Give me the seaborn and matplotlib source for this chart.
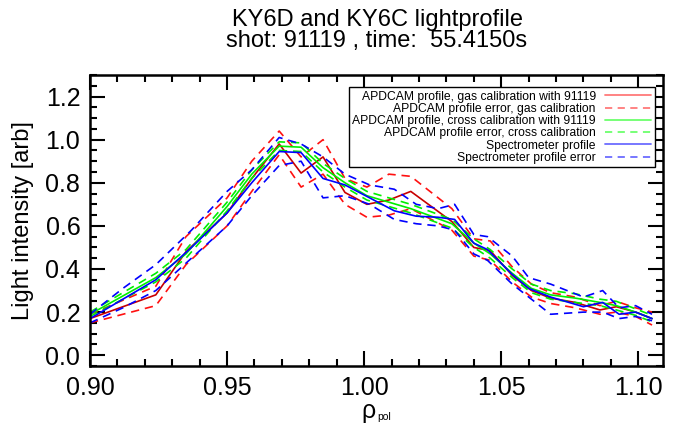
import numpy as np
import pandas as pd
import matplotlib
matplotlib.use("Agg")
import matplotlib.pyplot as plt
import seaborn as sns
from matplotlib.lines import Line2D
from matplotlib.ticker import MultipleLocator, FormatStrFormatter

# ---------------- data ----------------
apd_x = [0.900, 0.924, 0.935, 0.950, 0.959, 0.969, 0.977, 0.985, 0.993, 1.001, 1.009, 1.017,
         1.032, 1.040, 1.046, 1.054, 1.061, 1.068, 1.077, 1.086, 1.092, 1.099, 1.105]
gas_y = [0.17, 0.28, 0.48, 0.66, 0.82, 0.98, 0.845, 0.92, 0.755, 0.70, 0.72, 0.76,
         0.62, 0.50, 0.485, 0.37, 0.30, 0.265, 0.245, 0.21, 0.225, 0.20, 0.17]
gas_hi = [0.19, 0.32, 0.55, 0.73, 0.90, 1.04, 0.92, 1.00, 0.82, 0.78, 0.84, 0.83,
          0.68, 0.54, 0.53, 0.41, 0.33, 0.29, 0.27, 0.23, 0.25, 0.22, 0.20]
gas_lo = [0.15, 0.23, 0.42, 0.60, 0.76, 0.93, 0.78, 0.84, 0.70, 0.64, 0.65, 0.68,
          0.58, 0.46, 0.44, 0.34, 0.27, 0.24, 0.22, 0.19, 0.20, 0.18, 0.14]
cross_y = [0.19, 0.36, 0.47, 0.69, 0.84, 0.97, 0.965, 0.87, 0.80, 0.74, 0.71, 0.68,
           0.61, 0.52, 0.47, 0.38, 0.31, 0.28, 0.265, 0.245, 0.23, 0.20, 0.17]
cross_hi = [0.20, 0.38, 0.49, 0.71, 0.86, 0.99, 0.985, 0.89, 0.82, 0.76, 0.73, 0.70,
            0.63, 0.54, 0.49, 0.40, 0.33, 0.30, 0.285, 0.26, 0.25, 0.215, 0.185]
cross_lo = [0.18, 0.34, 0.45, 0.67, 0.82, 0.95, 0.945, 0.85, 0.78, 0.72, 0.69, 0.66,
            0.59, 0.50, 0.45, 0.36, 0.29, 0.26, 0.245, 0.23, 0.21, 0.185, 0.155]

spec_x = [0.900, 0.912, 0.924, 0.937, 0.950, 0.959, 0.969, 0.977, 0.985, 0.993, 1.002, 1.011,
          1.019, 1.027, 1.033, 1.040, 1.045, 1.054, 1.060, 1.068, 1.080, 1.087, 1.093, 1.099, 1.105]
spec_y = [0.17, 0.26, 0.35, 0.50, 0.66, 0.80, 0.945, 0.94, 0.82, 0.79, 0.73, 0.67,
          0.645, 0.64, 0.63, 0.52, 0.49, 0.375, 0.31, 0.27, 0.225, 0.245, 0.19, 0.20, 0.17]
spec_hi = [0.19, 0.31, 0.42, 0.58, 0.76, 0.86, 1.01, 0.98, 0.92, 0.84, 0.79, 0.77,
           0.70, 0.68, 0.70, 0.56, 0.55, 0.46, 0.36, 0.33, 0.27, 0.30, 0.22, 0.23, 0.19]
spec_lo = [0.15, 0.22, 0.30, 0.45, 0.60, 0.74, 0.88, 0.90, 0.73, 0.74, 0.70, 0.63,
           0.61, 0.60, 0.58, 0.47, 0.44, 0.33, 0.27, 0.19, 0.20, 0.20, 0.17, 0.18, 0.16]

legend_labels = ["APDCAM profile, gas calibration with 91119",
                 "APDCAM profile error, gas calibration",
                 "APDCAM profile, cross calibration with 91119",
                 "APDCAM profile error, cross calibration",
                 "Spectrometer profile",
                 "Spectrometer profile error"]
title_text = "KY6D and KY6C lightprofile\nshot: 91119 , time:  55.4150s"

# ---------------- styling ----------------
sns.set_theme(style="ticks")
plt.rcParams["font.family"] = ["Liberation Sans", "DejaVu Sans"]
plt.rcParams["text.color"] = "black"
plt.rcParams["axes.labelcolor"] = "black"

fig = plt.figure(figsize=(6.76, 4.28), dpi=100)
fig.patch.set_facecolor("white")
L, R, T, B = 90, 663, 75, 366
ax = fig.add_axes([L / 676, 1 - B / 428, (R - L) / 676, (B - T) / 428])
ax.set_facecolor("white")

DARKRED = "#c80000"
RED = "#ff1010"
GREEN = "#00ee00"
BLUE = "#0000ff"
dash = (0, (5, 3.5))
lw = 1.2

def draw(x, y, color, ls):
    df = pd.DataFrame({"x": x, "y": y})
    sns.lineplot(data=df, x="x", y="y", ax=ax, color=color, linestyle=ls, lw=lw,
                 estimator=None, sort=False, legend=False)

draw(apd_x, gas_y, DARKRED, "-")
draw(apd_x, gas_hi, RED, dash)
draw(apd_x, gas_lo, RED, dash)
draw(apd_x, cross_y, GREEN, "-")
draw(apd_x, cross_hi, GREEN, dash)
draw(apd_x, cross_lo, GREEN, dash)
draw(spec_x, spec_y, BLUE, "-")
draw(spec_x, spec_hi, BLUE, dash)
draw(spec_x, spec_lo, BLUE, dash)

ax.set_xlim(0.9, 1.109)
ax.set_ylim(-0.05, 1.3)
ax.xaxis.set_major_locator(MultipleLocator(0.05))
ax.xaxis.set_minor_locator(MultipleLocator(0.01))
ax.yaxis.set_major_locator(MultipleLocator(0.2))
ax.yaxis.set_minor_locator(MultipleLocator(0.05))
ax.xaxis.set_major_formatter(FormatStrFormatter("%.2f"))
ax.yaxis.set_major_formatter(FormatStrFormatter("%.1f"))
ax.tick_params(which="both", direction="in", top=True, right=True, colors="black",
               labelsize=18, width=1.5)
ax.tick_params(which="major", length=11, pad=7)
ax.tick_params(which="minor", length=5)
for s in ax.spines.values():
    s.set_linewidth(1.8)
    s.set_color("black")
    s.set_visible(True)

ax.set_xlabel("")
ax.set_ylabel("Light intensity [arb]", fontsize=17, labelpad=8)

# x label rho_pol
fig.text(376 / 676, 1 - 411 / 428, "ρ", fontsize=18, ha="right", va="center")
fig.text(377 / 676, 1 - 417 / 428, "pol", fontsize=7.5, ha="left", va="center")

fig.text(377 / 676, 1 - 9 / 428, title_text, ha="center", va="top", fontsize=17,
         linespacing=0.95)

handles = [Line2D([], [], color="#ff7a7a", lw=1.3, ls="-"),
           Line2D([], [], color="#ff7a7a", lw=1.3, ls=(0, (4, 3))),
           Line2D([], [], color="#6cff6c", lw=1.3, ls="-"),
           Line2D([], [], color="#6cff6c", lw=1.3, ls=(0, (4, 3))),
           Line2D([], [], color="#6c6cff", lw=1.3, ls="-"),
           Line2D([], [], color="#6c6cff", lw=1.3, ls=(0, (4, 3)))]
leg = ax.legend(handles, legend_labels, loc="upper right",
                bbox_to_anchor=((655 - L) / (R - L), 1 - (87 - T) / (B - T)),
                markerfirst=False, alignment="right", frameon=True, fancybox=False,
                framealpha=1, edgecolor="black", borderaxespad=0, borderpad=0.3,
                labelspacing=0.02, handlelength=3.8, handletextpad=0.8,
                prop={"size": 8.7})
leg.get_frame().set_linewidth(1.0)

fig.savefig("out.png", dpi=100, facecolor="white")
